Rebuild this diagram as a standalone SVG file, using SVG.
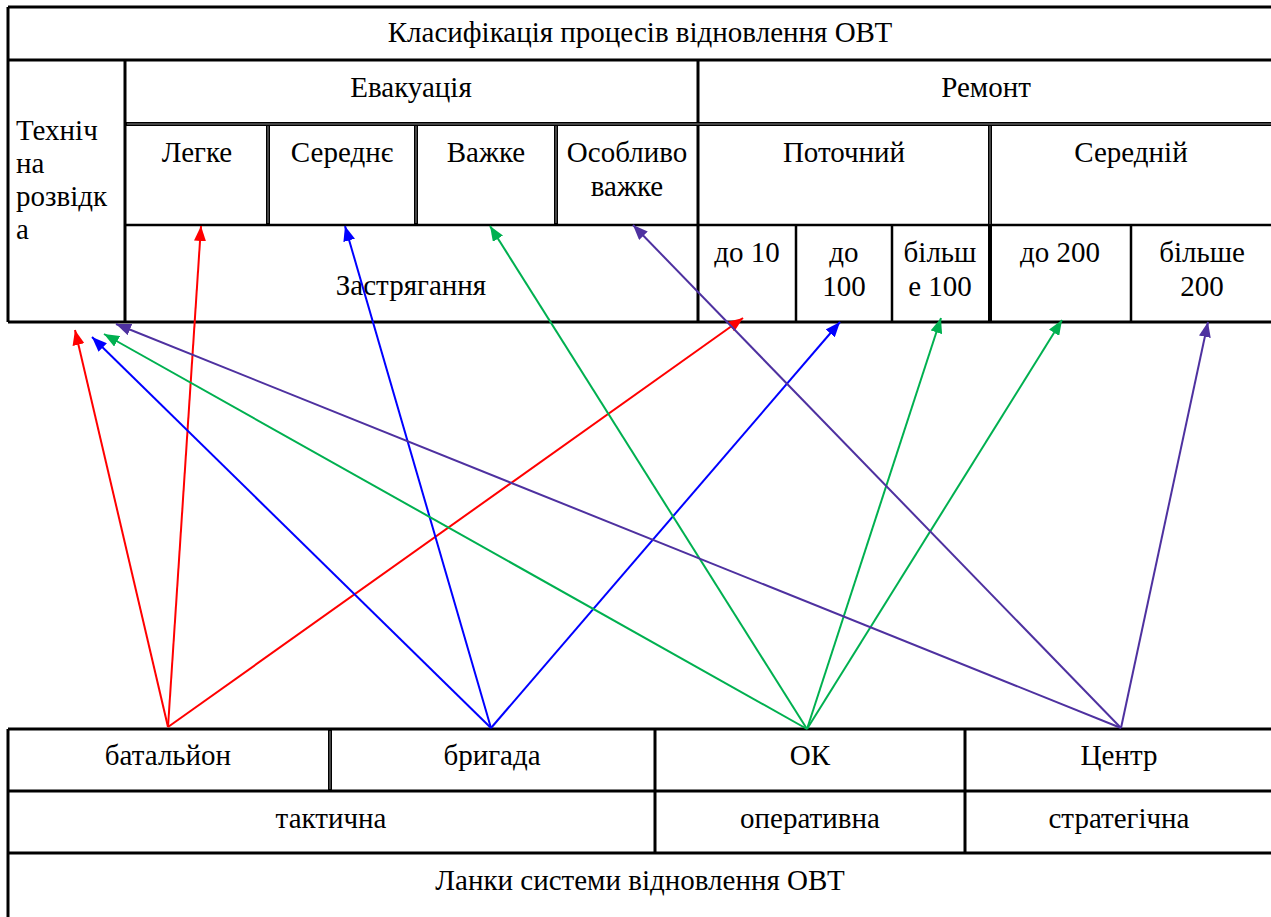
<svg xmlns="http://www.w3.org/2000/svg" width="1271" height="917" viewBox="0 0 1271 917">
<style>
text{font-family:'Liberation Serif','DejaVu Serif',serif;font-size:29px;fill:#000;text-anchor:middle}
.l{text-anchor:start}
.g{stroke:#000;stroke-width:2.5;fill:none}
.d{stroke:#000;stroke-width:4;fill:none}
.dm{stroke:#8a8a8a;stroke-width:1;fill:none}
.o{stroke:#000;stroke-width:3;fill:none}
.c{stroke-width:2;fill:none}
</style>
<defs>
<marker id="ar" markerUnits="userSpaceOnUse" markerWidth="15" markerHeight="12" refX="15" refY="6" orient="auto"><path d="M0,0 L15,6 L0,12 z" fill="#FF0000"/></marker>
<marker id="ab" markerUnits="userSpaceOnUse" markerWidth="15" markerHeight="12" refX="15" refY="6" orient="auto"><path d="M0,0 L15,6 L0,12 z" fill="#0000FF"/></marker>
<marker id="ag" markerUnits="userSpaceOnUse" markerWidth="15" markerHeight="12" refX="15" refY="6" orient="auto"><path d="M0,0 L15,6 L0,12 z" fill="#00B050"/></marker>
<marker id="ap" markerUnits="userSpaceOnUse" markerWidth="15" markerHeight="12" refX="15" refY="6" orient="auto"><path d="M0,0 L15,6 L0,12 z" fill="#4E31A0"/></marker>
</defs>
<rect width="1271" height="917" fill="#fff"/>

<g id="top-table">
<path class="o" d="M8,7 H1271 M8,60 H1271 M8,7 V322 M8,322 H1271 M125,60 V322 M698,60 V322"/>
<path class="g" d="M125,225 H1271 M796,225 V322 M892,225 V322 M1131,225 V322"/>
<path class="d" d="M125,124 H1271 M268,124 V225 M416,124 V225 M556,124 V225 M990,124 V322"/>
<path class="dm" d="M127,124 H1271 M268,126 V223 M416,126 V223 M556,126 V223 M990,126 V224"/>
</g>
<g id="title"><text x="640" y="42">Класифікація процесів відновлення ОВТ</text></g>
<g id="tech"><text class="l" x="16" y="140">Техніч</text><text class="l" x="16" y="173">на</text><text class="l" x="16" y="206">розвідк</text><text class="l" x="16" y="239">а</text></g>
<g id="evac"><text x="411" y="97">Евакуація</text></g>
<g id="repair"><text x="986" y="97">Ремонт</text></g>
<g id="light"><text x="197" y="162">Легке</text></g>
<g id="medium"><text x="342" y="162">Середнє</text></g>
<g id="heavy"><text x="486" y="162">Важке</text></g>
<g id="vheavy"><text x="627" y="162">Особливо</text><text x="627" y="196">важке</text></g>
<g id="stuck"><text x="411" y="295">Застрягання</text></g>
<g id="current"><text x="844" y="162">Поточний</text></g>
<g id="middle"><text x="1131" y="162">Середній</text></g>
<g id="to10"><text x="747" y="262">до 10</text></g>
<g id="to100"><text x="844" y="262">до</text><text x="844" y="296">100</text></g>
<g id="over100"><text x="940" y="262">більш</text><text x="940" y="296">е  100</text></g>
<g id="to200"><text x="1060" y="262">до  200</text></g>
<g id="over200"><text x="1202" y="262">більше</text><text x="1202" y="296">200</text></g>

<g id="bottom-table">
<path class="o" d="M8,729 H1271 M8,791 H1271 M8,853 H1271 M8,729 V917 M655,729 V853 M965,729 V853"/>
<path class="d" d="M330,729 V791"/>
<path class="dm" d="M330,731 V789"/>
</g>
<g id="battalion"><text x="168" y="765">батальйон</text></g>
<g id="brigade"><text x="492" y="765">бригада</text></g>
<g id="ok"><text x="810" y="765">ОК</text></g>
<g id="center"><text x="1119" y="765">Центр</text></g>
<g id="tactical"><text x="331" y="828">тактична</text></g>
<g id="operational"><text x="810" y="828">оперативна</text></g>
<g id="strategic"><text x="1119" y="828">стратегічна</text></g>
<g id="links"><text x="640" y="890">Ланки системи відновлення ОВТ</text></g>

<g id="connectors">
<g stroke="#FF0000" class="c" marker-end="url(#ar)">
<line x1="168" y1="727" x2="75" y2="330"/>
<line x1="168" y1="727" x2="201" y2="226"/>
<line x1="168" y1="727" x2="743" y2="318"/>
</g>
<g stroke="#0000FF" class="c" marker-end="url(#ab)">
<line x1="491" y1="728" x2="92" y2="337"/>
<line x1="491" y1="728" x2="345" y2="226"/>
<line x1="491" y1="728" x2="840" y2="322"/>
</g>
<g stroke="#00B050" class="c" marker-end="url(#ag)">
<line x1="807" y1="729" x2="104" y2="334"/>
<line x1="807" y1="729" x2="490" y2="226"/>
<line x1="807" y1="729" x2="941" y2="318"/>
<line x1="807" y1="729" x2="1062" y2="320"/>
</g>
<g stroke="#4E31A0" class="c" marker-end="url(#ap)">
<line x1="1121" y1="728" x2="116" y2="324"/>
<line x1="1121" y1="728" x2="633" y2="225"/>
<line x1="1121" y1="728" x2="1208" y2="322"/>
</g>
</g>
</svg>
